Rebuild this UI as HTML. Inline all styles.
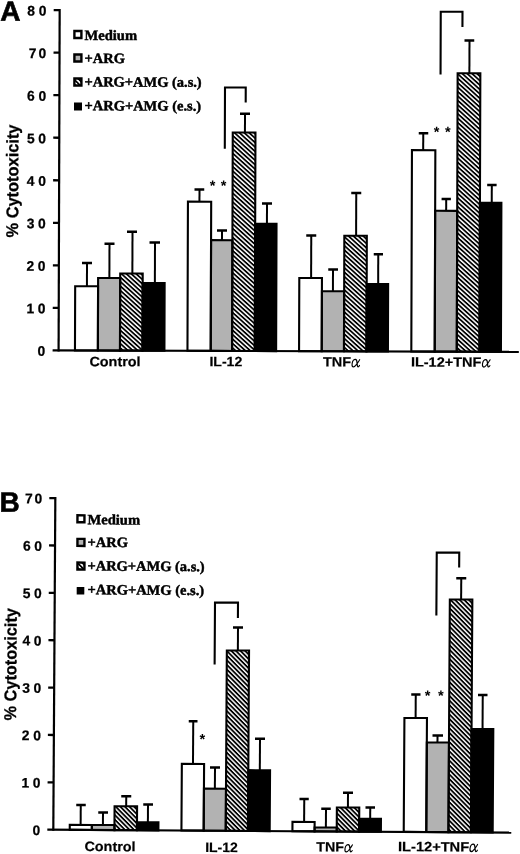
<!DOCTYPE html>
<html><head><meta charset="utf-8"><title>Figure</title>
<style>html,body{margin:0;padding:0;background:#fff}svg{display:block;filter:grayscale(1)}text{fill:#000}</style>
</head><body>
<svg width="520" height="854" viewBox="0 0 520 854">
<defs>
<pattern id="hatchA" patternUnits="userSpaceOnUse" width="3.28" height="3.28" patternTransform="rotate(42)"><rect width="3.28" height="3.28" fill="#fff"/><rect x="0" y="0" width="3.28" height="1.75" fill="#000"/></pattern>
<pattern id="hatchB" patternUnits="userSpaceOnUse" width="3.25" height="3.25" patternTransform="rotate(45)"><rect width="3.25" height="3.25" fill="#fff"/><rect x="0" y="0" width="3.25" height="1.8" fill="#000"/></pattern>
<pattern id="hatchs" patternUnits="userSpaceOnUse" width="3.4" height="3.4" patternTransform="rotate(45)"><rect width="3.4" height="3.4" fill="#fff"/><rect x="0" y="0" width="3.4" height="1.7" fill="#000"/></pattern>
</defs>
<rect width="520" height="854" fill="#fff"/>
<g transform="rotate(0.18 58.6 350.4)">
<rect x="74.97" y="286.16" width="22.9" height="64.24" fill="#fff"/>
<rect x="97.87" y="277.84" width="22.1" height="72.56" fill="#b2b2b2"/>
<rect x="119.97" y="273.27" width="22.5" height="77.13" fill="url(#hatchA)"/>
<rect x="142.47" y="282.75" width="21.95" height="67.65" fill="#000"/>
<rect x="74.97" y="286.16" width="22.9" height="64.24" fill="none" stroke="#000" stroke-width="2.1"/>
<rect x="97.87" y="277.84" width="22.1" height="72.56" fill="none" stroke="#000" stroke-width="2.1"/>
<rect x="119.97" y="273.27" width="22.5" height="77.13" fill="none" stroke="#000" stroke-width="2.1"/>
<rect x="142.47" y="282.75" width="21.95" height="67.65" fill="none" stroke="#000" stroke-width="2.1"/>
<path d="M86.73 286.16V262.91" stroke="#000" stroke-width="2" fill="none"/>
<path d="M81.73 262.91H91.73" stroke="#000" stroke-width="2.4" fill="none"/>
<path d="M109.16 277.84V243.59" stroke="#000" stroke-width="2" fill="none"/>
<path d="M104.16 243.59H114.16" stroke="#000" stroke-width="2.4" fill="none"/>
<path d="M132.13 273.27V231.52" stroke="#000" stroke-width="2" fill="none"/>
<path d="M126.63 231.52H136.63" stroke="#000" stroke-width="2.4" fill="none"/>
<path d="M154.66 282.75V242.2" stroke="#000" stroke-width="2" fill="none"/>
<path d="M149.16 242.2H159.66" stroke="#000" stroke-width="2.4" fill="none"/>
<rect x="187.47" y="201.26" width="23.25" height="149.14" fill="#fff"/>
<rect x="210.72" y="239.69" width="21.35" height="110.71" fill="#b2b2b2"/>
<rect x="232.07" y="131.92" width="22.7" height="218.48" fill="url(#hatchA)"/>
<rect x="254.77" y="223.1" width="21.35" height="127.3" fill="#000"/>
<rect x="187.47" y="201.26" width="23.25" height="149.14" fill="none" stroke="#000" stroke-width="2.1"/>
<rect x="210.72" y="239.69" width="21.35" height="110.71" fill="none" stroke="#000" stroke-width="2.1"/>
<rect x="232.07" y="131.92" width="22.7" height="218.48" fill="none" stroke="#000" stroke-width="2.1"/>
<rect x="254.77" y="223.1" width="21.35" height="127.3" fill="none" stroke="#000" stroke-width="2.1"/>
<path d="M198.99 201.26V189.06" stroke="#000" stroke-width="2" fill="none"/>
<path d="M193.99 189.06H203.74" stroke="#000" stroke-width="2.4" fill="none"/>
<path d="M221.62 239.69V229.99" stroke="#000" stroke-width="2" fill="none"/>
<path d="M216.62 229.99H226.62" stroke="#000" stroke-width="2.4" fill="none"/>
<path d="M244.26 131.92V113.17" stroke="#000" stroke-width="2" fill="none"/>
<path d="M239.26 113.17H249.26" stroke="#000" stroke-width="2.4" fill="none"/>
<path d="M266.54 223.1V202.85" stroke="#000" stroke-width="2" fill="none"/>
<path d="M261.54 202.85H271.54" stroke="#000" stroke-width="2.4" fill="none"/>
<rect x="299.07" y="277.21" width="22.65" height="73.19" fill="#fff"/>
<rect x="321.72" y="290.39" width="22.25" height="60.01" fill="#b2b2b2"/>
<rect x="343.97" y="234.82" width="22.5" height="115.58" fill="url(#hatchA)"/>
<rect x="366.47" y="283.05" width="21.45" height="67.35" fill="#000"/>
<rect x="299.07" y="277.21" width="22.65" height="73.19" fill="none" stroke="#000" stroke-width="2.1"/>
<rect x="321.72" y="290.39" width="22.25" height="60.01" fill="none" stroke="#000" stroke-width="2.1"/>
<rect x="343.97" y="234.82" width="22.5" height="115.58" fill="none" stroke="#000" stroke-width="2.1"/>
<rect x="366.47" y="283.05" width="21.45" height="67.35" fill="none" stroke="#000" stroke-width="2.1"/>
<path d="M310.89 277.21V234.71" stroke="#000" stroke-width="2" fill="none"/>
<path d="M305.89 234.71H315.89" stroke="#000" stroke-width="2.4" fill="none"/>
<path d="M332.74 290.39V268.64" stroke="#000" stroke-width="2" fill="none"/>
<path d="M327.99 268.64H337.74" stroke="#000" stroke-width="2.4" fill="none"/>
<path d="M355.75 234.82V192.07" stroke="#000" stroke-width="2" fill="none"/>
<path d="M350.75 192.07H360.75" stroke="#000" stroke-width="2.4" fill="none"/>
<path d="M377.95 283.05V253.25" stroke="#000" stroke-width="2" fill="none"/>
<path d="M373.45 253.25H382.7" stroke="#000" stroke-width="2.4" fill="none"/>
<rect x="411.32" y="149.06" width="23.4" height="201.34" fill="#fff"/>
<rect x="434.72" y="209.58" width="22.05" height="140.82" fill="#b2b2b2"/>
<rect x="456.77" y="71.96" width="22.7" height="278.44" fill="url(#hatchA)"/>
<rect x="479.47" y="201.39" width="21.45" height="149.01" fill="#000"/>
<rect x="411.32" y="149.06" width="23.4" height="201.34" fill="none" stroke="#000" stroke-width="2.1"/>
<rect x="434.72" y="209.58" width="22.05" height="140.82" fill="none" stroke="#000" stroke-width="2.1"/>
<rect x="456.77" y="71.96" width="22.7" height="278.44" fill="none" stroke="#000" stroke-width="2.1"/>
<rect x="479.47" y="201.39" width="21.45" height="149.01" fill="none" stroke="#000" stroke-width="2.1"/>
<path d="M422.57 149.06V132.11" stroke="#000" stroke-width="2" fill="none"/>
<path d="M418.07 132.11H427.57" stroke="#000" stroke-width="2.4" fill="none"/>
<path d="M445.72 209.58V197.78" stroke="#000" stroke-width="2" fill="none"/>
<path d="M441.12 197.78H450.42" stroke="#000" stroke-width="2.4" fill="none"/>
<path d="M468.52 71.96V39.21" stroke="#000" stroke-width="2" fill="none"/>
<path d="M463.52 39.21H473.27" stroke="#000" stroke-width="2.4" fill="none"/>
<path d="M491.28 201.39V183.64" stroke="#000" stroke-width="2" fill="none"/>
<path d="M486.68 183.64H496.08" stroke="#000" stroke-width="2.4" fill="none"/>
<path d="M224.17 148.23V86.98H244.92V101.91" stroke="#000" stroke-width="2.1" fill="none" stroke-linejoin="miter"/>
<path d="M439.68 73.3V10.55H461.43V25.73" stroke="#000" stroke-width="2.1" fill="none" stroke-linejoin="miter"/>
<path d="M58.6 9.05V351.5" stroke="#000" stroke-width="2.2" fill="none"/>
<path d="M52.6 350.4H518.8" stroke="#000" stroke-width="2.2" fill="none"/>
<path d="M52.6 307.87H58.6" stroke="#000" stroke-width="2.3"/>
<path d="M52.6 265.34H58.6" stroke="#000" stroke-width="2.3"/>
<path d="M52.6 222.81H58.6" stroke="#000" stroke-width="2.3"/>
<path d="M52.6 180.28H58.6" stroke="#000" stroke-width="2.3"/>
<path d="M52.6 137.74H58.6" stroke="#000" stroke-width="2.3"/>
<path d="M52.6 95.21H58.6" stroke="#000" stroke-width="2.3"/>
<path d="M52.6 52.68H58.6" stroke="#000" stroke-width="2.3"/>
<path d="M52.6 10.15H58.6" stroke="#000" stroke-width="2.3"/>
<text x="45.3" y="355.9" text-anchor="end" font-family='"Liberation Sans", sans-serif' font-weight="700" font-size="13.8" stroke="#000" stroke-width="0.25">0</text>
<text x="45.3" y="313.37" text-anchor="end" font-family='"Liberation Sans", sans-serif' font-weight="700" font-size="13.8" stroke="#000" stroke-width="0.25">0</text>
<text x="34" y="313.37" text-anchor="end" font-family='"Liberation Sans", sans-serif' font-weight="700" font-size="13.8" stroke="#000" stroke-width="0.25">1</text>
<text x="45.3" y="270.84" text-anchor="end" font-family='"Liberation Sans", sans-serif' font-weight="700" font-size="13.8" stroke="#000" stroke-width="0.25">0</text>
<text x="34" y="270.84" text-anchor="end" font-family='"Liberation Sans", sans-serif' font-weight="700" font-size="13.8" stroke="#000" stroke-width="0.25">2</text>
<text x="45.3" y="228.31" text-anchor="end" font-family='"Liberation Sans", sans-serif' font-weight="700" font-size="13.8" stroke="#000" stroke-width="0.25">0</text>
<text x="34" y="228.31" text-anchor="end" font-family='"Liberation Sans", sans-serif' font-weight="700" font-size="13.8" stroke="#000" stroke-width="0.25">3</text>
<text x="45.3" y="185.78" text-anchor="end" font-family='"Liberation Sans", sans-serif' font-weight="700" font-size="13.8" stroke="#000" stroke-width="0.25">0</text>
<text x="34" y="185.78" text-anchor="end" font-family='"Liberation Sans", sans-serif' font-weight="700" font-size="13.8" stroke="#000" stroke-width="0.25">4</text>
<text x="45.3" y="143.24" text-anchor="end" font-family='"Liberation Sans", sans-serif' font-weight="700" font-size="13.8" stroke="#000" stroke-width="0.25">0</text>
<text x="34" y="143.24" text-anchor="end" font-family='"Liberation Sans", sans-serif' font-weight="700" font-size="13.8" stroke="#000" stroke-width="0.25">5</text>
<text x="45.3" y="100.71" text-anchor="end" font-family='"Liberation Sans", sans-serif' font-weight="700" font-size="13.8" stroke="#000" stroke-width="0.25">0</text>
<text x="34" y="100.71" text-anchor="end" font-family='"Liberation Sans", sans-serif' font-weight="700" font-size="13.8" stroke="#000" stroke-width="0.25">6</text>
<text x="45.3" y="58.18" text-anchor="end" font-family='"Liberation Sans", sans-serif' font-weight="700" font-size="13.8" stroke="#000" stroke-width="0.25">0</text>
<text x="35.6" y="58.18" text-anchor="end" font-family='"Liberation Sans", sans-serif' font-weight="700" font-size="13.8" stroke="#000" stroke-width="0.25">7</text>
<text x="45.3" y="15.65" text-anchor="end" font-family='"Liberation Sans", sans-serif' font-weight="700" font-size="13.8" stroke="#000" stroke-width="0.25">0</text>
<text x="34" y="15.65" text-anchor="end" font-family='"Liberation Sans", sans-serif' font-weight="700" font-size="13.8" stroke="#000" stroke-width="0.25">8</text>
<text transform="translate(17.75 237.63) rotate(-90)" font-family='"Liberation Sans", sans-serif' font-weight="700" font-size="17" textLength="113" lengthAdjust="spacingAndGlyphs" stroke="#000" stroke-width="0.3">% Cytotoxicity</text>
<text x="89.45" y="366.1" font-family='"Liberation Sans", sans-serif' font-weight="700" font-size="13.6" textLength="51.2" lengthAdjust="spacingAndGlyphs" stroke="#000" stroke-width="0.2">Control</text>
<text x="209.45" y="365.72" font-family='"Liberation Sans", sans-serif' font-weight="700" font-size="13.6" textLength="32.9" lengthAdjust="spacingAndGlyphs" stroke="#000" stroke-width="0.2">IL-12</text>
<text x="322.95" y="365.67" font-family='"Liberation Sans", sans-serif' font-weight="700" font-size="13.6" textLength="28.1" lengthAdjust="spacingAndGlyphs" stroke="#000" stroke-width="0.2">TNF</text>
<path transform="translate(351.2 365.88) skewX(-9) scale(0.92 1.01) translate(0 -7.9)" d="M8.0 0.9C7.2 2.5 6.5 4.0 5.6 5.3C4.8 6.6 3.9 8.0 2.7 8.0C1.2 8.0 0.5 6.4 0.5 4.6C0.5 2.4 1.7 0.6 3.3 0.6C4.6 0.6 5.3 2.2 5.8 4.2C6.3 6.2 6.6 7.9 7.6 7.9C8.2 7.9 8.6 7.3 8.8 6.6" fill="none" stroke="#000" stroke-width="1.25" stroke-linecap="round"/>
<text x="410.95" y="365.49" font-family='"Liberation Sans", sans-serif' font-weight="700" font-size="13.6" textLength="70.5" lengthAdjust="spacingAndGlyphs" stroke="#000" stroke-width="0.2">IL-12+TNF</text>
<path transform="translate(481.6 365.57) skewX(-9) scale(0.92 1.01) translate(0 -7.9)" d="M8.0 0.9C7.2 2.5 6.5 4.0 5.6 5.3C4.8 6.6 3.9 8.0 2.7 8.0C1.2 8.0 0.5 6.4 0.5 4.6C0.5 2.4 1.7 0.6 3.3 0.6C4.6 0.6 5.3 2.2 5.8 4.2C6.3 6.2 6.6 7.9 7.6 7.9C8.2 7.9 8.6 7.3 8.8 6.6" fill="none" stroke="#000" stroke-width="1.25" stroke-linecap="round"/>
<text x="211.97" y="190.12" text-anchor="middle" font-family='"Liberation Sans", sans-serif' font-weight="700" font-size="14.5">*</text>
<text x="222.97" y="190.08" text-anchor="middle" font-family='"Liberation Sans", sans-serif' font-weight="700" font-size="14.5">*</text>
<text x="435.9" y="135.61" text-anchor="middle" font-family='"Liberation Sans", sans-serif' font-weight="700" font-size="14.5">*</text>
<text x="447.1" y="135.58" text-anchor="middle" font-family='"Liberation Sans", sans-serif' font-weight="700" font-size="14.5">*</text>
<rect x="73.41" y="30.94" width="7" height="7" fill="#fff" stroke="#000" stroke-width="2.4"/>
<text x="83.52" y="39.92" font-family='"Liberation Serif", serif' font-weight="700" font-size="14.3" textLength="52.6" lengthAdjust="spacingAndGlyphs" stroke="#000" stroke-width="0.45">Medium</text>
<rect x="73.48" y="54.44" width="7" height="7" fill="#b2b2b2" stroke="#000" stroke-width="2.4"/>
<text x="83.6" y="62.92" font-family='"Liberation Serif", serif' font-weight="700" font-size="14.3" textLength="40.4" lengthAdjust="spacingAndGlyphs" stroke="#000" stroke-width="0.45">+ARG</text>
<rect x="73.56" y="78.44" width="7" height="7" fill="url(#hatchs)" stroke="#000" stroke-width="2.4"/>
<text x="83.67" y="86.42" font-family='"Liberation Serif", serif' font-weight="700" font-size="14.3" textLength="117.2" lengthAdjust="spacingAndGlyphs" stroke="#000" stroke-width="0.45">+ARG+AMG (a.s.)</text>
<rect x="73.23" y="102.44" width="8" height="8" fill="#000"/>
<text x="83.75" y="110.22" font-family='"Liberation Serif", serif' font-weight="700" font-size="14.3" textLength="116.6" lengthAdjust="spacingAndGlyphs" stroke="#000" stroke-width="0.45">+ARG+AMG (e.s.)</text>
<text x="-0.74" y="20.98" font-family='"Liberation Sans", sans-serif' font-weight="700" font-size="28" stroke="#000" stroke-width="0.6">A</text>
</g>
<g transform="rotate(0.35 53.3 829.75)">
<rect x="69.74" y="824.83" width="22.1" height="4.92" fill="#fff"/>
<rect x="91.84" y="824.7" width="22.6" height="5.05" fill="#b2b2b2"/>
<rect x="114.44" y="805.81" width="22.5" height="23.94" fill="url(#hatchB)"/>
<rect x="136.94" y="821.72" width="21.45" height="8.03" fill="#000"/>
<rect x="69.74" y="824.83" width="22.1" height="4.92" fill="none" stroke="#000" stroke-width="2.1"/>
<rect x="91.84" y="824.7" width="22.6" height="5.05" fill="none" stroke="#000" stroke-width="2.1"/>
<rect x="114.44" y="805.81" width="22.5" height="23.94" fill="none" stroke="#000" stroke-width="2.1"/>
<rect x="136.94" y="821.72" width="21.45" height="8.03" fill="none" stroke="#000" stroke-width="2.1"/>
<path d="M80.6 824.83V804.83" stroke="#000" stroke-width="2" fill="none"/>
<path d="M76.1 804.83H85.6" stroke="#000" stroke-width="2.4" fill="none"/>
<path d="M102.89 824.7V812.2" stroke="#000" stroke-width="2" fill="none"/>
<path d="M98.14 812.2H107.89" stroke="#000" stroke-width="2.4" fill="none"/>
<path d="M126.04 805.81V795.81" stroke="#000" stroke-width="2" fill="none"/>
<path d="M121.04 795.81H131.04" stroke="#000" stroke-width="2.4" fill="none"/>
<path d="M147.84 821.72V803.92" stroke="#000" stroke-width="2" fill="none"/>
<path d="M143.09 803.92H152.84" stroke="#000" stroke-width="2.4" fill="none"/>
<rect x="181.44" y="763.05" width="22.25" height="66.7" fill="#fff"/>
<rect x="203.69" y="787.71" width="22.05" height="42.04" fill="#b2b2b2"/>
<rect x="225.74" y="649.38" width="22.2" height="180.37" fill="url(#hatchB)"/>
<rect x="247.94" y="768.99" width="21.75" height="60.76" fill="#000"/>
<rect x="181.44" y="763.05" width="22.25" height="66.7" fill="none" stroke="#000" stroke-width="2.1"/>
<rect x="203.69" y="787.71" width="22.05" height="42.04" fill="none" stroke="#000" stroke-width="2.1"/>
<rect x="225.74" y="649.38" width="22.2" height="180.37" fill="none" stroke="#000" stroke-width="2.1"/>
<rect x="247.94" y="768.99" width="21.75" height="60.76" fill="none" stroke="#000" stroke-width="2.1"/>
<path d="M192.58 763.05V720.4" stroke="#000" stroke-width="2" fill="none"/>
<path d="M188.08 720.4H196.83" stroke="#000" stroke-width="2.4" fill="none"/>
<path d="M214.62 787.71V766.51" stroke="#000" stroke-width="2" fill="none"/>
<path d="M209.62 766.51H219.62" stroke="#000" stroke-width="2.4" fill="none"/>
<path d="M236.76 649.38V626.38" stroke="#000" stroke-width="2" fill="none"/>
<path d="M231.76 626.38H241.76" stroke="#000" stroke-width="2.4" fill="none"/>
<path d="M259.44 768.99V737.49" stroke="#000" stroke-width="2" fill="none"/>
<path d="M254.44 737.49H264.44" stroke="#000" stroke-width="2.4" fill="none"/>
<rect x="292.43" y="820.47" width="22.15" height="9.28" fill="#fff"/>
<rect x="314.58" y="825.84" width="22.15" height="3.91" fill="#b2b2b2"/>
<rect x="336.73" y="805.7" width="22.4" height="24.05" fill="url(#hatchB)"/>
<rect x="359.13" y="816.86" width="21.75" height="12.89" fill="#000"/>
<rect x="292.43" y="820.47" width="22.15" height="9.28" fill="none" stroke="#000" stroke-width="2.1"/>
<rect x="314.58" y="825.84" width="22.15" height="3.91" fill="none" stroke="#000" stroke-width="2.1"/>
<rect x="336.73" y="805.7" width="22.4" height="24.05" fill="none" stroke="#000" stroke-width="2.1"/>
<rect x="359.13" y="816.86" width="21.75" height="12.89" fill="none" stroke="#000" stroke-width="2.1"/>
<path d="M304.06 820.47V797.47" stroke="#000" stroke-width="2" fill="none"/>
<path d="M299.31 797.47H308.56" stroke="#000" stroke-width="2.4" fill="none"/>
<path d="M325.87 825.84V807.08" stroke="#000" stroke-width="2" fill="none"/>
<path d="M321.12 807.08H330.62" stroke="#000" stroke-width="2.4" fill="none"/>
<path d="M347.77 805.7V790.95" stroke="#000" stroke-width="2" fill="none"/>
<path d="M342.77 790.95H352.77" stroke="#000" stroke-width="2.4" fill="none"/>
<path d="M370.11 816.86V805.56" stroke="#000" stroke-width="2" fill="none"/>
<path d="M365.36 805.56H374.86" stroke="#000" stroke-width="2.4" fill="none"/>
<rect x="403.73" y="715.79" width="22.55" height="113.96" fill="#fff"/>
<rect x="426.28" y="740.16" width="22.15" height="89.59" fill="#b2b2b2"/>
<rect x="448.43" y="597.02" width="22.5" height="232.73" fill="url(#hatchB)"/>
<rect x="470.93" y="726.43" width="21.75" height="103.32" fill="#000"/>
<rect x="403.73" y="715.79" width="22.55" height="113.96" fill="none" stroke="#000" stroke-width="2.1"/>
<rect x="426.28" y="740.16" width="22.15" height="89.59" fill="none" stroke="#000" stroke-width="2.1"/>
<rect x="448.43" y="597.02" width="22.5" height="232.73" fill="none" stroke="#000" stroke-width="2.1"/>
<rect x="470.93" y="726.43" width="21.75" height="103.32" fill="none" stroke="#000" stroke-width="2.1"/>
<path d="M414.92 715.79V692.29" stroke="#000" stroke-width="2" fill="none"/>
<path d="M410.42 692.29H419.67" stroke="#000" stroke-width="2.4" fill="none"/>
<path d="M436.92 740.16V733.15" stroke="#000" stroke-width="2" fill="none"/>
<path d="M431.92 733.15H442.42" stroke="#000" stroke-width="2.4" fill="none"/>
<path d="M459.71 597.02V575.76" stroke="#000" stroke-width="2" fill="none"/>
<path d="M454.71 575.76H464.71" stroke="#000" stroke-width="2.4" fill="none"/>
<path d="M481.92 726.43V692.38" stroke="#000" stroke-width="2" fill="none"/>
<path d="M477.17 692.38H486.67" stroke="#000" stroke-width="2.4" fill="none"/>
<path d="M213.61 663.52V601.52H236.61V616.88" stroke="#000" stroke-width="2.1" fill="none" stroke-linejoin="miter"/>
<path d="M435.05 613.16V550.16H457.55V565.03" stroke="#000" stroke-width="2.1" fill="none" stroke-linejoin="miter"/>
<path d="M53.3 497.01V830.85" stroke="#000" stroke-width="2.2" fill="none"/>
<path d="M47.3 829.75H511.29" stroke="#000" stroke-width="2.2" fill="none"/>
<path d="M47.3 782.37H53.3" stroke="#000" stroke-width="2.3"/>
<path d="M47.3 734.99H53.3" stroke="#000" stroke-width="2.3"/>
<path d="M47.3 687.62H53.3" stroke="#000" stroke-width="2.3"/>
<path d="M47.3 640.24H53.3" stroke="#000" stroke-width="2.3"/>
<path d="M47.3 592.86H53.3" stroke="#000" stroke-width="2.3"/>
<path d="M47.3 545.48H53.3" stroke="#000" stroke-width="2.3"/>
<path d="M47.3 498.11H53.3" stroke="#000" stroke-width="2.3"/>
<text x="40.3" y="835.05" text-anchor="end" font-family='"Liberation Sans", sans-serif' font-weight="700" font-size="13.8" stroke="#000" stroke-width="0.25">0</text>
<text x="40.3" y="787.67" text-anchor="end" font-family='"Liberation Sans", sans-serif' font-weight="700" font-size="13.8" stroke="#000" stroke-width="0.25">0</text>
<text x="29" y="787.67" text-anchor="end" font-family='"Liberation Sans", sans-serif' font-weight="700" font-size="13.8" stroke="#000" stroke-width="0.25">1</text>
<text x="40.3" y="740.29" text-anchor="end" font-family='"Liberation Sans", sans-serif' font-weight="700" font-size="13.8" stroke="#000" stroke-width="0.25">0</text>
<text x="29" y="740.29" text-anchor="end" font-family='"Liberation Sans", sans-serif' font-weight="700" font-size="13.8" stroke="#000" stroke-width="0.25">2</text>
<text x="40.3" y="692.92" text-anchor="end" font-family='"Liberation Sans", sans-serif' font-weight="700" font-size="13.8" stroke="#000" stroke-width="0.25">0</text>
<text x="29" y="692.92" text-anchor="end" font-family='"Liberation Sans", sans-serif' font-weight="700" font-size="13.8" stroke="#000" stroke-width="0.25">3</text>
<text x="40.3" y="645.54" text-anchor="end" font-family='"Liberation Sans", sans-serif' font-weight="700" font-size="13.8" stroke="#000" stroke-width="0.25">0</text>
<text x="29" y="645.54" text-anchor="end" font-family='"Liberation Sans", sans-serif' font-weight="700" font-size="13.8" stroke="#000" stroke-width="0.25">4</text>
<text x="40.3" y="598.16" text-anchor="end" font-family='"Liberation Sans", sans-serif' font-weight="700" font-size="13.8" stroke="#000" stroke-width="0.25">0</text>
<text x="29" y="598.16" text-anchor="end" font-family='"Liberation Sans", sans-serif' font-weight="700" font-size="13.8" stroke="#000" stroke-width="0.25">5</text>
<text x="40.3" y="550.78" text-anchor="end" font-family='"Liberation Sans", sans-serif' font-weight="700" font-size="13.8" stroke="#000" stroke-width="0.25">0</text>
<text x="29" y="550.78" text-anchor="end" font-family='"Liberation Sans", sans-serif' font-weight="700" font-size="13.8" stroke="#000" stroke-width="0.25">6</text>
<text x="40.3" y="503.41" text-anchor="end" font-family='"Liberation Sans", sans-serif' font-weight="700" font-size="13.8" stroke="#000" stroke-width="0.25">0</text>
<text x="30.6" y="503.41" text-anchor="end" font-family='"Liberation Sans", sans-serif' font-weight="700" font-size="13.8" stroke="#000" stroke-width="0.25">7</text>
<text transform="translate(15.43 720.73) rotate(-90)" font-family='"Liberation Sans", sans-serif' font-weight="700" font-size="17" textLength="112.4" lengthAdjust="spacingAndGlyphs" stroke="#000" stroke-width="0.3">% Cytotoxicity</text>
<text x="84.53" y="850.81" font-family='"Liberation Sans", sans-serif' font-weight="700" font-size="13.6" textLength="51.2" lengthAdjust="spacingAndGlyphs" stroke="#000" stroke-width="0.2">Control</text>
<text x="205.33" y="850.97" font-family='"Liberation Sans", sans-serif' font-weight="700" font-size="13.6" textLength="32.5" lengthAdjust="spacingAndGlyphs" stroke="#000" stroke-width="0.2">IL-12</text>
<text x="316.43" y="849.89" font-family='"Liberation Sans", sans-serif' font-weight="700" font-size="13.6" textLength="27.6" lengthAdjust="spacingAndGlyphs" stroke="#000" stroke-width="0.2">TNF</text>
<path transform="translate(344.18 850.02) skewX(-9) scale(0.9 0.99) translate(0 -7.9)" d="M8.0 0.9C7.2 2.5 6.5 4.0 5.6 5.3C4.8 6.6 3.9 8.0 2.7 8.0C1.2 8.0 0.5 6.4 0.5 4.6C0.5 2.4 1.7 0.6 3.3 0.6C4.6 0.6 5.3 2.2 5.8 4.2C6.3 6.2 6.6 7.9 7.6 7.9C8.2 7.9 8.6 7.3 8.8 6.6" fill="none" stroke="#000" stroke-width="1.28" stroke-linecap="round"/>
<text x="398.17" y="849.09" font-family='"Liberation Sans", sans-serif' font-weight="700" font-size="13.6" textLength="71.05" lengthAdjust="spacingAndGlyphs" stroke="#000" stroke-width="0.2">IL-12+TNF</text>
<path transform="translate(469.17 848.96) skewX(-9) scale(0.92 1.01) translate(0 -7.9)" d="M8.0 0.9C7.2 2.5 6.5 4.0 5.6 5.3C4.8 6.6 3.9 8.0 2.7 8.0C1.2 8.0 0.5 6.4 0.5 4.6C0.5 2.4 1.7 0.6 3.3 0.6C4.6 0.6 5.3 2.2 5.8 4.2C6.3 6.2 6.6 7.9 7.6 7.9C8.2 7.9 8.6 7.3 8.8 6.6" fill="none" stroke="#000" stroke-width="1.25" stroke-linecap="round"/>
<text x="201.93" y="743.19" text-anchor="middle" font-family='"Liberation Sans", sans-serif' font-weight="700" font-size="14.5">*</text>
<text x="426.86" y="698.12" text-anchor="middle" font-family='"Liberation Sans", sans-serif' font-weight="700" font-size="14.5">*</text>
<text x="439.91" y="698.04" text-anchor="middle" font-family='"Liberation Sans", sans-serif' font-weight="700" font-size="14.5">*</text>
<rect x="75.55" y="515.14" width="7" height="7" fill="#fff" stroke="#000" stroke-width="2.4"/>
<text x="85.63" y="524" font-family='"Liberation Serif", serif' font-weight="700" font-size="14.3" textLength="52.6" lengthAdjust="spacingAndGlyphs" stroke="#000" stroke-width="0.45">Medium</text>
<rect x="75.69" y="538.74" width="7" height="7" fill="#b2b2b2" stroke="#000" stroke-width="2.4"/>
<text x="85.77" y="546.7" font-family='"Liberation Serif", serif' font-weight="700" font-size="14.3" textLength="40.4" lengthAdjust="spacingAndGlyphs" stroke="#000" stroke-width="0.45">+ARG</text>
<rect x="75.84" y="562.39" width="7" height="7" fill="url(#hatchs)" stroke="#000" stroke-width="2.4"/>
<text x="85.92" y="570.3" font-family='"Liberation Serif", serif' font-weight="700" font-size="14.3" textLength="117.2" lengthAdjust="spacingAndGlyphs" stroke="#000" stroke-width="0.45">+ARG+AMG (a.s.)</text>
<rect x="75.24" y="586.84" width="7.6" height="7.6" fill="#000"/>
<text x="86.06" y="594.1" font-family='"Liberation Serif", serif' font-weight="700" font-size="14.3" textLength="116.6" lengthAdjust="spacingAndGlyphs" stroke="#000" stroke-width="0.45">+ARG+AMG (e.s.)</text>
<text x="-2.54" y="512.14" font-family='"Liberation Sans", sans-serif' font-weight="700" font-size="28" stroke="#000" stroke-width="0.6">B</text>
</g>
</svg>
</body></html>
